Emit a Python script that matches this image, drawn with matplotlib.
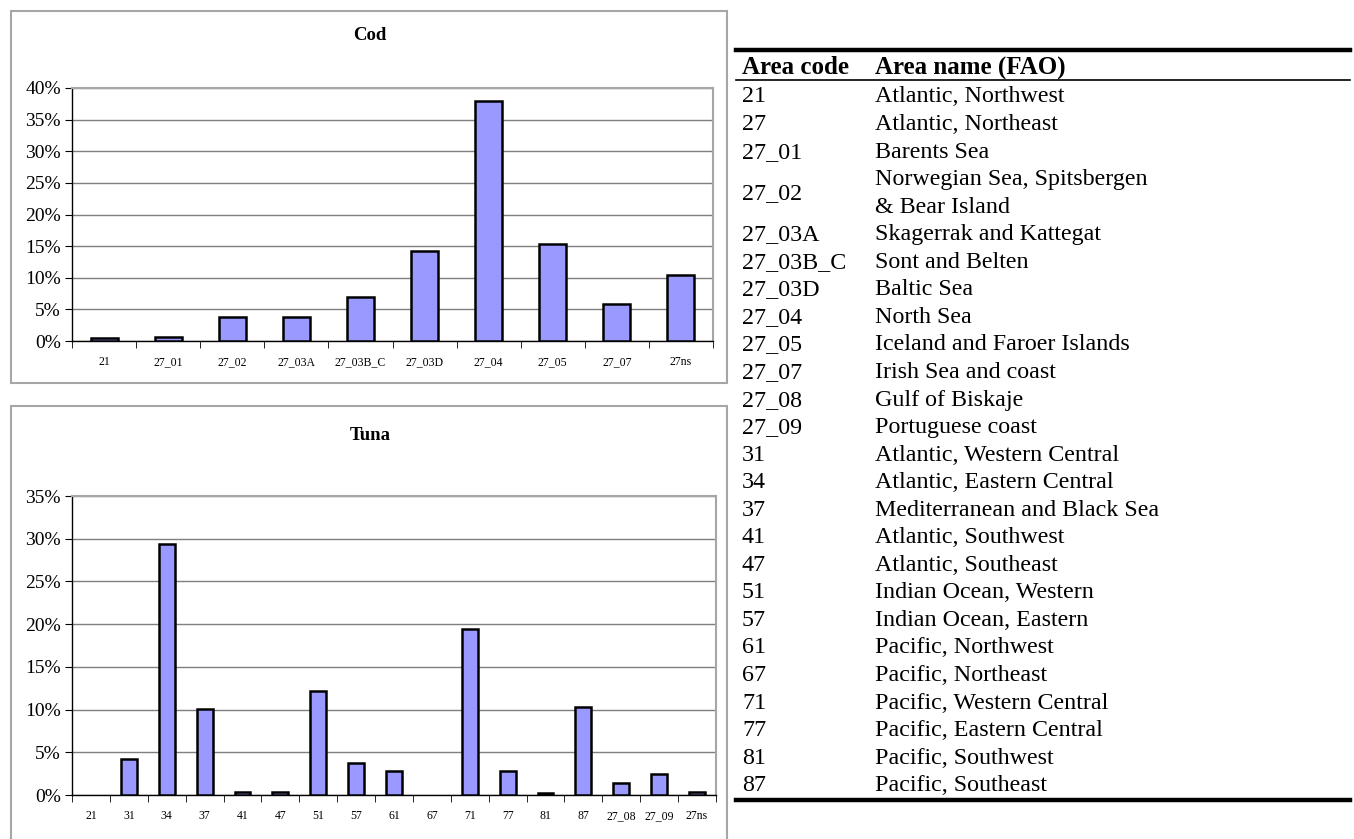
import matplotlib
matplotlib.use('Agg')
import matplotlib.pyplot as plt
from matplotlib.patches import Rectangle
from matplotlib.lines import Line2D
from matplotlib.ticker import FuncFormatter, MultipleLocator

plt.rcParams['font.family'] = ['Liberation Serif', 'DejaVu Serif']

# Catch share by FAO area (percent)
cod_areas = ["21", "27_01", "27_02", "27_03A", "27_03B_C", "27_03D", "27_04", "27_05", "27_07", "27ns"]
cod_share = [0.4, 0.7, 3.8, 3.8, 7.0, 14.3, 38.0, 15.4, 5.9, 10.5]

tuna_areas = ["21", "31", "34", "37", "41", "47", "51", "57", "61", "67", "71", "77", "81", "87",
              "27_08", "27_09", "27ns"]
tuna_share = [0.0, 4.2, 29.4, 10.1, 0.4, 0.4, 12.2, 3.8, 2.8, 0.0, 19.4, 2.8, 0.2, 10.3,
              1.4, 2.4, 0.4]

table_codes = ["21", "27", "27_01", "27_02", "27_03A", "27_03B_C", "27_03D", "27_04", "27_05",
               "27_07", "27_08", "27_09", "31", "34", "37", "41", "47", "51", "57", "61", "67",
               "71", "77", "81", "87"]
table_names = ["Atlantic, Northwest", "Atlantic, Northeast", "Barents Sea",
               "Norwegian Sea, Spitsbergen\n& Bear Island", "Skagerrak and Kattegat",
               "Sont and Belten", "Baltic Sea", "North Sea", "Iceland and Faroer Islands",
               "Irish Sea and coast", "Gulf of Biskaje", "Portuguese coast",
               "Atlantic, Western Central", "Atlantic, Eastern Central",
               "Mediterranean and Black Sea", "Atlantic, Southwest", "Atlantic, Southeast",
               "Indian Ocean, Western", "Indian Ocean, Eastern", "Pacific, Northwest",
               "Pacific, Northeast", "Pacific, Western Central", "Pacific, Eastern Central",
               "Pacific, Southwest", "Pacific, Southeast"]

W, H = 1354, 839
fig = plt.figure(figsize=(W / 100, H / 100), dpi=100)


def px(x0, y0, x1, y1):
    # pixel box (top-left origin) -> figure fraction rect
    return [x0 / W, 1 - y1 / H, (x1 - x0) / W, (y1 - y0) / H]


def frame(x0, y0, x1, y1):
    fig.patches.append(Rectangle((x0 / W, 1 - y1 / H), (x1 - x0) / W, (y1 - y0) / H,
                                 transform=fig.transFigure, fill=False,
                                 edgecolor='#a6a6a6', linewidth=1.5))


def bar_panel(rect, areas, share, ymax, title, title_y):
    ax = fig.add_axes(rect)
    x = range(len(areas))
    # empty areas get no outline, so nothing shows on the baseline
    edges = ['black' if v > 0 else 'none' for v in share]
    ax.bar(x, share, width=0.42, color='#9999ff', edgecolor=edges, linewidth=1.8, zorder=3)
    ax.set_xlim(-0.5, len(areas) - 0.5)
    ax.set_ylim(0, ymax)
    ax.yaxis.set_major_locator(MultipleLocator(5))
    ax.yaxis.set_major_formatter(FuncFormatter(lambda v, p: f"{v:.0f}%"))
    ax.grid(axis='y', color='#7f7f7f', linewidth=1.0, zorder=0)
    ax.set_xticks(list(x))
    ax.set_xticklabels(areas, fontsize=8.5)
    ax.set_xticks([i + 0.5 for i in range(-1, len(areas))], minor=True)
    ax.tick_params(axis='x', which='major', length=0, pad=11)
    ax.tick_params(axis='x', which='minor', length=5, direction='out', color='black')
    ax.tick_params(axis='y', labelsize=14, length=5, direction='out', pad=3)
    for side in ('top', 'right'):
        ax.spines[side].set_color('#a6a6a6')
        ax.spines[side].set_linewidth(1.5)
    ax.spines['left'].set_linewidth(1.0)
    ax.spines['bottom'].set_linewidth(1.0)
    fig.text(370 / W, 1 - title_y / H, title, ha='center', va='center',
             fontsize=13.5, fontweight='bold')
    return ax


frame(11, 11, 727, 383)
bar_panel(px(72, 88, 713, 341), cod_areas, cod_share, 40, "Cod", 35)

frame(11, 406, 727, 860)
bar_panel(px(72, 496, 716, 795), tuna_areas, tuna_share, 35, "Tuna", 435)

# FAO area table
x_left, x_right = 736, 1350
col_code, col_name = 742, 875
body_size, head_size = 17.3, 18


def hline(y, lw):
    fig.add_artist(Line2D([x_left / W, x_right / W], [1 - y / H, 1 - y / H],
                          transform=fig.transFigure, color='black', linewidth=lw))


def cell(x, y, s, **kw):
    fig.text(x / W, 1 - (y + 2) / H, s, va='center', **kw)


hline(50, 3.2)
hline(80, 1.2)
hline(800, 3.2)

cell(col_code, 66, "Area code", fontsize=head_size, fontweight='bold')
cell(col_name, 66, "Area name (FAO)", fontsize=head_size, fontweight='bold')

step = 27.55
y = 95
for code, name in zip(table_codes, table_names):
    lines = name.split("\n")
    for k, line in enumerate(lines):
        cell(col_name, y + k * step, line, fontsize=body_size)
    cell(col_code, y + (len(lines) - 1) * step / 2, code, fontsize=body_size)
    y += len(lines) * step

fig.savefig("out.png", dpi=100)
